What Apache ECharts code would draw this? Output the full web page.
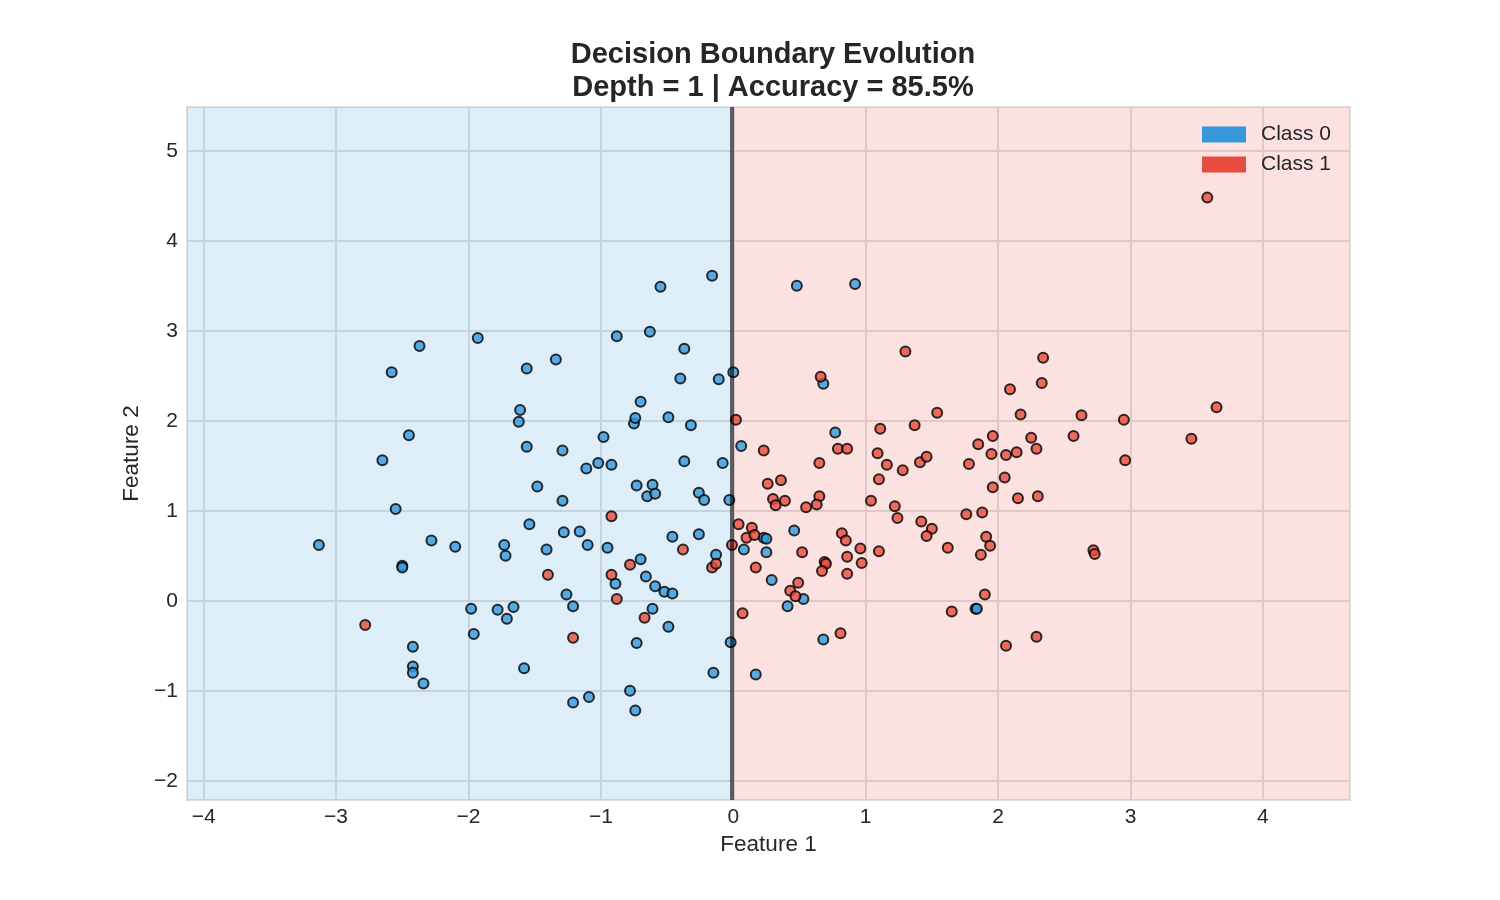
<!DOCTYPE html>
<html>
<head>
<meta charset="utf-8">
<title>Decision Boundary Evolution</title>
<script src="https://cdn.jsdelivr.net/npm/echarts@6/dist/echarts.min.js"></script>
<style>
  html, body { margin: 0; padding: 0; background: #fff; }
  #myChart { width: 1500px; height: 900px; }
</style>
</head>
<body>
<div id="myChart"></div>
<script>
// values
var class0X = [-3.13, -2.55, -2.58, -2.65, -2.37, -2.45, -2.50, -2.50, -2.28, -2.10,
  -2.42, -2.42, -2.42, -2.34, -1.93, -1.98, -1.96, -1.78, -1.73, -1.72,
  -1.71, -1.66, -1.61, -1.62, -1.56, -1.56, -1.58, -1.54, -1.48, -1.41,
  -1.34, -1.29, -1.29, -1.28, -1.26, -1.21, -1.21, -1.16, -1.10, -1.11,
  -1.09, -1.02, -0.98, -0.95, -0.92, -0.89, -0.88, -0.78, -0.75, -0.74,
  -0.73, -0.73, -0.74, -0.70, -0.70, -0.66, -0.63, -0.65, -0.61, -0.59,
  -0.59, -0.61, -0.55, -0.52, -0.49, -0.49, -0.46, -0.46, -0.40, -0.37,
  -0.37, -0.32, -0.26, -0.26, -0.22, -0.16, -0.15, -0.13, -0.11, -0.08,
  -0.03, 0.00, -0.02, 0.06, 0.08, 0.23, 0.25, 0.25, 0.29, 0.17,
  0.46, 0.41, 0.53, 0.48, 0.92, 0.68, 0.77, 0.68, 1.83, 1.84];
var class0Y = [0.62, 1.02, 2.54, 1.56, 2.83, 1.84, 0.39, 0.37, 0.67, 0.60,
  -0.51, -0.73, -0.80, -0.92, 2.92, -0.09, -0.37, -0.10, 0.62, 0.50,
  -0.20, -0.07, 2.12, 1.99, 2.58, 1.71, -0.75, 0.85, 1.27, 0.57,
  2.68, 1.67, 1.11, 0.76, 0.07, -0.06, -1.13, 0.77, 0.62, 1.47,
  -1.07, 1.53, 1.82, 0.59, 1.51, 0.19, 2.94, -1.00, 1.97, 2.03,
  1.28, -0.47, -1.22, 0.46, 2.21, 0.27, 2.99, 1.16, 1.29, 0.16,
  1.19, -0.09, 3.49, 0.10, 2.04, -0.29, 0.08, 0.71, 2.47, 2.80,
  1.55, 1.95, 1.20, 0.74, 1.12, 3.61, -0.80, 0.51, 2.46, 1.53,
  1.12, 2.54, -0.46, 1.72, 0.57, 0.70, 0.69, 0.54, 0.23, -0.82,
  0.78, -0.06, 0.02, 3.50, 3.52, 2.41, 1.87, -0.43, -0.09, -0.09];

var class1X = [-2.78, -1.40, -1.21, -0.92, -0.92, -0.88, -0.78, -0.67, -0.38, -0.16,
  -0.13, -0.01, 0.66, 1.30, 0.02, 1.54, 1.11, 1.37, 0.23, 0.79,
  0.86, 0.65, 1.09, 1.16, 1.28, 1.41, 1.46, 1.78, 1.85, 1.96,
  1.95, 1.96, 0.26, 0.36, 1.10, 0.30, 0.32, 0.39, 0.65, 0.63,
  0.55, 1.04, 1.22, 1.24, 1.42, 1.50, 1.46, 1.76, 1.88, 1.91,
  1.94, 1.87, 1.62, 1.90, 1.65, 0.04, 0.14, 0.10, 0.16, 0.17,
  0.52, 0.82, 0.85, 0.86, 0.96, 0.97, 1.10, 0.69, 0.70, 0.67,
  0.86, 0.49, 0.43, 0.47, 0.07, 0.81, 3.58, 2.34, 2.33, 2.09,
  2.17, 2.63, 2.95, 3.65, 3.46, 2.25, 2.57, 2.29, 2.06, 2.14,
  2.96, 2.05, 2.15, 2.30, 2.72, 2.73, 2.06, 2.29];
var class1Y = [-0.27, 0.29, -0.41, 0.94, 0.29, 0.02, 0.40, -0.19, 0.57, 0.37,
  0.41, 0.62, 2.49, 2.77, 2.01, 2.09, 1.91, 1.95, 1.67, 1.69,
  1.69, 1.53, 1.64, 1.51, 1.45, 1.54, 1.60, 1.52, 1.74, 1.83,
  1.63, 1.26, 1.30, 1.34, 1.35, 1.13, 1.06, 1.11, 1.16, 1.07,
  1.04, 1.11, 1.05, 0.92, 0.88, 0.80, 0.72, 0.96, 0.98, 0.71,
  0.61, 0.51, 0.59, 0.07, -0.12, 0.85, 0.81, 0.70, 0.73, 0.37,
  0.54, 0.75, 0.67, 0.49, 0.58, 0.42, 0.55, 0.43, 0.41, 0.33,
  0.30, 0.20, 0.11, 0.05, -0.14, -0.36, 4.48, 2.70, 2.42, 2.35,
  2.07, 2.06, 2.01, 2.15, 1.80, 1.81, 1.83, 1.69, 1.62, 1.65,
  1.56, 1.37, 1.14, 1.16, 0.56, 0.52, -0.50, -0.40];

var classNames = ['Class 0', 'Class 1'];
var splitX = -0.005;          // depth-1 tree threshold on Feature 1
var xRange = [-4.126, 4.658];
var yRange = [-2.214, 5.486];

function pairs(xs, ys) {
  var out = [];
  for (var i = 0; i < xs.length; i++) out.push([xs[i], ys[i]]);
  return out;
}

function tickFmt(v) {
  if (Math.abs(v - Math.round(v)) > 1e-6) return '';
  v = Math.round(v);
  return v < 0 ? '\u2212' + Math.abs(v) : String(v);
}

var font = "'Liberation Sans', Arial, sans-serif";
var myChart = echarts.init(document.getElementById('myChart'));

var option = {
  backgroundColor: '#ffffff',
  animation: false,
  textStyle: { fontFamily: font },
  title: {
    text: 'Decision Boundary Evolution\nDepth = 1 | Accuracy = 85.5%',
    left: 768,
    top: 33,
    textAlign: 'center',
    textStyle: {
      fontFamily: font,
      fontSize: 29,
      fontWeight: 'bold',
      lineHeight: 33,
      color: '#262626'
    }
  },
  grid: {
    left: 187,
    top: 107,
    width: 1163,
    height: 693,
    show: true,
    borderColor: '#cccccc',
    borderWidth: 2,
    backgroundColor: 'transparent'
  },
  legend: {
    orient: 'vertical',
    left: 1197,
    top: 119,
    itemWidth: 44,
    itemHeight: 16,
    itemGap: 9,
    textStyle: { fontFamily: font, fontSize: 21, color: '#262626', padding: [0, 0, 0, 10] },
    data: [
      { name: classNames[0], icon: 'rect', itemStyle: { color: '#3498db', opacity: 1, borderWidth: 0 } },
      { name: classNames[1], icon: 'rect', itemStyle: { color: '#e74c3c', opacity: 1, borderWidth: 0 } }
    ]
  },
  xAxis: {
    type: 'value',
    min: xRange[0],
    max: xRange[1],
    minInterval: 1,
    maxInterval: 1,
    name: 'Feature 1',
    nameLocation: 'middle',
    nameGap: 33,
    nameTextStyle: { fontFamily: font, fontSize: 22.5, color: '#262626' },
    axisLine: { show: false },
    axisTick: { show: false },
    axisLabel: { margin: 7, fontSize: 21, color: '#262626', fontFamily: font, formatter: tickFmt },
    splitLine: { show: true, lineStyle: { color: '#e0e0e0', width: 2 } }
  },
  yAxis: {
    type: 'value',
    min: yRange[0],
    max: yRange[1],
    minInterval: 1,
    maxInterval: 1,
    name: 'Feature 2',
    nameLocation: 'middle',
    nameGap: 38,
    nameTextStyle: { fontFamily: font, fontSize: 22.5, color: '#262626' },
    axisLine: { show: false },
    axisTick: { show: false },
    axisLabel: { margin: 9, fontSize: 21, color: '#262626', fontFamily: font, formatter: tickFmt },
    splitLine: { show: true, lineStyle: { color: '#e0e0e0', width: 2 } }
  },
  series: [
    {
      // predicted regions, translucent so the grid shows through
      name: 'regions',
      type: 'scatter',
      data: [],
      silent: true,
      markArea: {
        silent: true,
        label: { show: false },
        data: [
          [{ coord: [xRange[0], yRange[0]], itemStyle: { color: 'rgba(52,152,219,0.17)' } }, { coord: [splitX, yRange[1]] }],
          [{ coord: [splitX, yRange[0]], itemStyle: { color: 'rgba(231,76,60,0.16)' } }, { coord: [xRange[1], yRange[1]] }]
        ]
      }
    },
    {
      name: classNames[0],
      type: 'scatter',
      data: pairs(class0X, class0Y),
      symbolSize: 10,
      itemStyle: { color: '#3498db', opacity: 0.8, borderColor: '#000', borderWidth: 2 },
      z: 3
    },
    {
      name: classNames[1],
      type: 'scatter',
      data: pairs(class1X, class1Y),
      symbolSize: 10,
      itemStyle: { color: '#e74c3c', opacity: 0.8, borderColor: '#000', borderWidth: 2 },
      z: 3
    },
    {
      name: 'boundary',
      type: 'scatter',
      data: [],
      z: 5,
      silent: true,
      markLine: {
        silent: true,
        symbol: 'none',
        label: { show: false },
        lineStyle: { color: '#000', width: 4, opacity: 0.6, type: 'solid' },
        data: [{ xAxis: splitX }]
      }
    }
  ]
};
myChart.setOption(option);
</script>
</body>
</html>
